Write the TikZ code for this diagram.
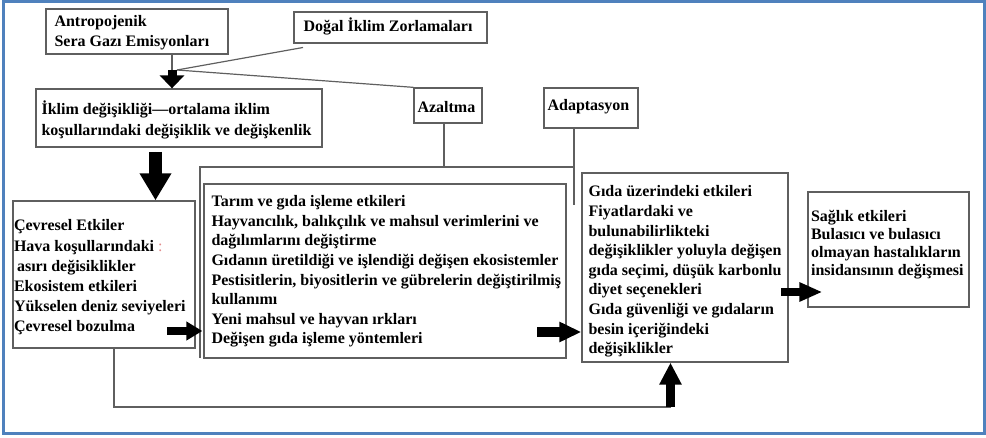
\documentclass[tikz,border=0pt]{standalone}
\usepackage{fontspec}
\setmainfont{Liberation Serif}
\usetikzlibrary{arrows.meta}
\definecolor{frameblue}{RGB}{79,129,189}
\definecolor{linegray}{RGB}{95,95,95}
\definecolor{colonred}{RGB}{225,140,140}
\begin{document}
\begin{tikzpicture}[x=1pt,y=-1pt,
  box/.style={draw=linegray, line width=1.3pt, inner sep=0pt},
  txt/.style={inner sep=0pt, align=left, anchor=west,
    font=\fontsize{16}{19.6}\selectfont\bfseries},
  conn/.style={draw=linegray, line width=1.2pt},
  barrow/.style={draw=black, fill=black, line cap=butt}
]
\useasboundingbox (0,0) rectangle (986,438);
\draw[frameblue, line width=3pt] (3.5,2) rectangle (984.5,433.5);

% boxes
\node[box, minimum width=182pt, minimum height=45pt] (ant) at (137,31.5) {};
\node[box, minimum width=193pt, minimum height=31pt] (dogal) at (390.5,27.5) {};
\node[box, minimum width=286pt, minimum height=58pt] (clim) at (179,118) {};
\node[box, minimum width=68pt, minimum height=35pt] (azal) at (448,105.5) {};
\node[box, minimum width=94pt, minimum height=40pt] (adap) at (591,108) {};
\node[box, minimum width=182pt, minimum height=147pt] (cev) at (104,274.5) {};
\node[box, minimum width=362pt, minimum height=174pt] (inner) at (385,271) {};
\node[box, minimum width=206pt, minimum height=189pt] (gida) at (685,267.5) {};
\node[box, minimum width=161pt, minimum height=115pt] (sag) at (888.5,249.5) {};

% texts
\node[txt, font=\fontsize{16}{20}\selectfont\bfseries] (antT) at ([xshift=9pt,yshift=-1.5pt]ant.west)
  {Antropojenik\\Sera Gazı Emisyonları};
\node[txt] (dogalT) at ([xshift=10pt,yshift=1.5pt]dogal.west) {Doğal İklim Zorlamaları};
\node[txt, font=\fontsize{16}{21}\selectfont\bfseries] (climT) at ([xshift=6pt,yshift=-1.5pt]clim.west)
  {İklim değişikliği—ortalama iklim\\koşullarındaki değişiklik ve değişkenlik};
\node[txt] (azalT) at ([xshift=4pt,yshift=-1.5pt]azal.west) {Azaltma};
\node[txt] (adapT) at ([xshift=4pt,yshift=1pt]adap.west) {Adaptasyon};
\node[txt, font=\fontsize{16}{20.2}\selectfont\bfseries] (cevT) at ([xshift=1.5pt,yshift=-3pt]cev.west)
  {Çevresel Etkiler\\Hava koşullarındaki {\color{colonred}\mdseries :}\\\hspace*{3pt}asırı değisiklikler\\Ekosistem etkileri\\Yükselen deniz seviyeleri\\Çevresel bozulma};
\node[txt] (innerT) at ([xshift=8pt,yshift=-0.5pt]inner.west)
  {Tarım ve gıda işleme etkileri\\Hayvancılık, balıkçılık ve mahsul verimlerini ve\\dağılımlarını değiştirme\\Gıdanın üretildiği ve işlendiği değişen ekosistemler\\Pestisitlerin, biyositlerin ve gübrelerin değiştirilmiş\\kullanımı\\Yeni mahsul ve hayvan ırkları\\Değişen gıda işleme yöntemleri};
\node[txt] (gidaT) at ([xshift=7pt,yshift=-4pt]gida.west)
  {Gıda üzerindeki etkileri\\Fiyatlardaki ve\\bulunabilirlikteki\\değişiklikler yoluyla değişen\\gıda seçimi, düşük karbonlu\\diyet seçenekleri\\Gıda güvenliği ve gıdaların\\besin içeriğindeki\\değişiklikler};
\node[txt, font=\fontsize{16}{18}\selectfont\bfseries] (sagT) at ([xshift=3.5pt,yshift=4.5pt]sag.west)
  {Sağlık etkileri\\Bulasıcı ve bulasıcı\\olmayan hastalıkların\\insidansının değişmesi};

% connector points
\coordinate (j) at (172,70);
\coordinate (j2) at (177,70);
\coordinate (dg) at (303,47.5);
\coordinate (topR) at (574,167);
\coordinate (frameL) at (200,358);
\coordinate (adapEnd) at (574,205);
\coordinate (k) at (670.5,407);

% thin connectors
\draw[conn] (ant.south -| j) -- (j);
\draw[conn] (dg) -- (j2);
\draw[conn] (j2) -- (azal.north west);
\draw[conn] ([xshift=-4pt]azal.south) -- ([xshift=-4pt]azal.south |- topR);
\draw[conn] (frameL) |- (topR);
\draw[conn] (adapEnd |- adap.south) -- (adapEnd);
\draw[conn] ([xshift=10pt]cev.south) |- (k);

% block arrows
\draw[barrow, line width=9pt, -{Triangle[length=13pt,width=24pt]}] (j) -- (j |- clim.north);
\coordinate (a2s) at (155.5,152);
\draw[barrow, line width=13pt, -{Triangle[length=27pt,width=30pt]}] (a2s) -- (a2s |- cev.north);
\coordinate (a3s) at (167,331);
\draw[barrow, line width=8pt, -{Triangle[length=16pt,width=18pt]}] (a3s) -- ([xshift=-1pt]a3s -| inner.west);
\coordinate (a4s) at (537,332);
\draw[barrow, line width=10pt, -{Triangle[length=22pt,width=19pt]}] (a4s) -- (a4s -| gida.west);
\coordinate (a5s) at (781,292);
\draw[barrow, line width=7.5pt, -{Triangle[length=23pt,width=18pt]}] (a5s) -- ([xshift=15pt]a5s -| sag.west);
\draw[barrow, line width=9pt, -{Triangle[length=22pt,width=21pt]}] (k) -- (k |- gida.south);
\end{tikzpicture}
\end{document}
